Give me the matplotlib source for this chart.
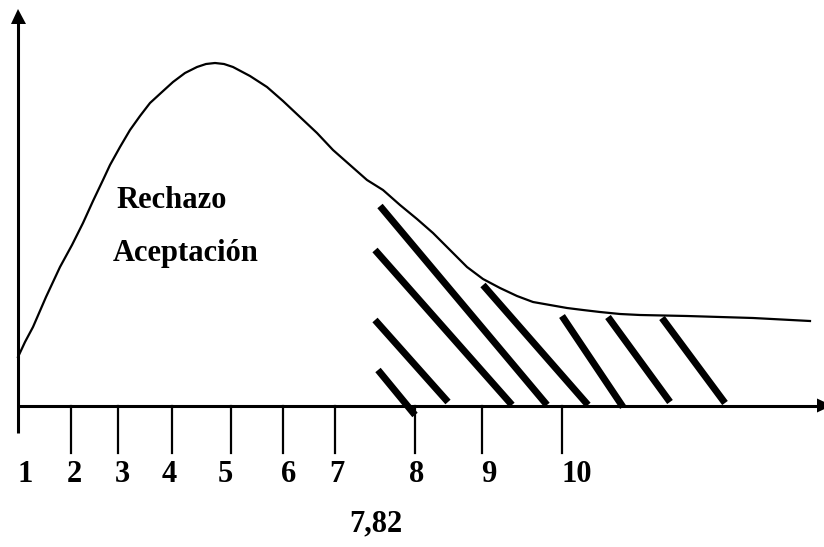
import matplotlib
matplotlib.use("Agg")
import matplotlib.pyplot as plt

# ── Data (picture coordinates, y grows downward) ──────────────────────────────

curve_x = [18, 25, 33, 46, 60, 72, 83, 93, 103, 110, 120, 130, 140, 150, 162,
           173, 185, 197, 206, 215, 224, 233, 250, 267, 283, 300, 317, 333,
           350, 367, 383, 400, 417, 433, 450, 467, 483, 500, 517, 533, 550,
           567, 583, 600, 620, 640, 687, 753, 810]
curve_y = [357, 342, 327, 297, 267, 245, 223, 201, 180, 165, 147, 130, 116,
           103, 92, 82, 73, 67, 64, 63, 64, 67, 76, 87, 101, 117, 133, 150,
           165, 180, 190, 205, 219, 233, 250, 267, 279, 288, 296, 302, 305,
           308, 310, 312, 314, 315, 316, 318, 321]

tick_x = [18, 71, 118, 172, 231, 283, 335, 415, 482, 562]
tick_labels = ["1", "2", "3", "4", "5", "6", "7", "8", "9", "10"]
label_x = [25, 74, 122, 169, 225, 289, 337, 417, 489, 577]

hatch_x0 = [378, 375, 375, 380, 483, 562, 608, 662]
hatch_y0 = [370, 320, 250, 206, 285, 316, 317, 318]
hatch_x1 = [415, 448, 512, 547, 588, 623, 670, 725]
hatch_y1 = [415, 402, 405, 405, 405, 407, 402, 403]

critical_label = "7,82"
zone_labels = ["Rechazo", "Aceptación"]

# ── Figure ────────────────────────────────────────────────────────────────────

W, H = 824, 547
fig = plt.figure(figsize=(W / 100, H / 100), dpi=100)
ax = fig.add_axes([0, 0, 1, 1])
ax.set_xlim(0, W)
ax.set_ylim(H, 0)
ax.axis("off")

font = dict(family="Liberation Serif", fontweight="bold", fontsize=22)
x_axis_y = 405.5

# axes with arrow heads
ax.plot([18, 18], [433, 22], color="black", lw=2.2, solid_capstyle="butt")
ax.fill([11, 18, 26], [24, 9, 24], color="black", lw=0)
ax.plot([18, 818], [x_axis_y, x_axis_y], color="black", lw=2.2,
        solid_capstyle="butt")
ax.fill([817, 832, 817], [398.5, x_axis_y, 412.5], color="black", lw=0)

# ticks and labels
for tx in tick_x[1:]:
    ax.plot([tx, tx], [x_axis_y, 453], color="black", lw=1.6)
for lx, lab in zip(label_x, tick_labels):
    ax.text(lx, 474, lab, ha="center", va="center", **font)

# density curve
ax.plot(curve_x, curve_y, color="black", lw=1.6, solid_joinstyle="round")

# rejection region hatching
for x0, y0, x1, y1 in zip(hatch_x0, hatch_y0, hatch_x1, hatch_y1):
    ax.plot([x0, x1], [y0, y1], color="black", lw=5.0, solid_capstyle="butt")

ax.text(172, 200, zone_labels[0], ha="center", va="center", **font)
ax.text(186, 253, zone_labels[1], ha="center", va="center", **font)
ax.text(376, 524, critical_label, ha="center", va="center", **font)

fig.savefig("out.png", dpi=100)
